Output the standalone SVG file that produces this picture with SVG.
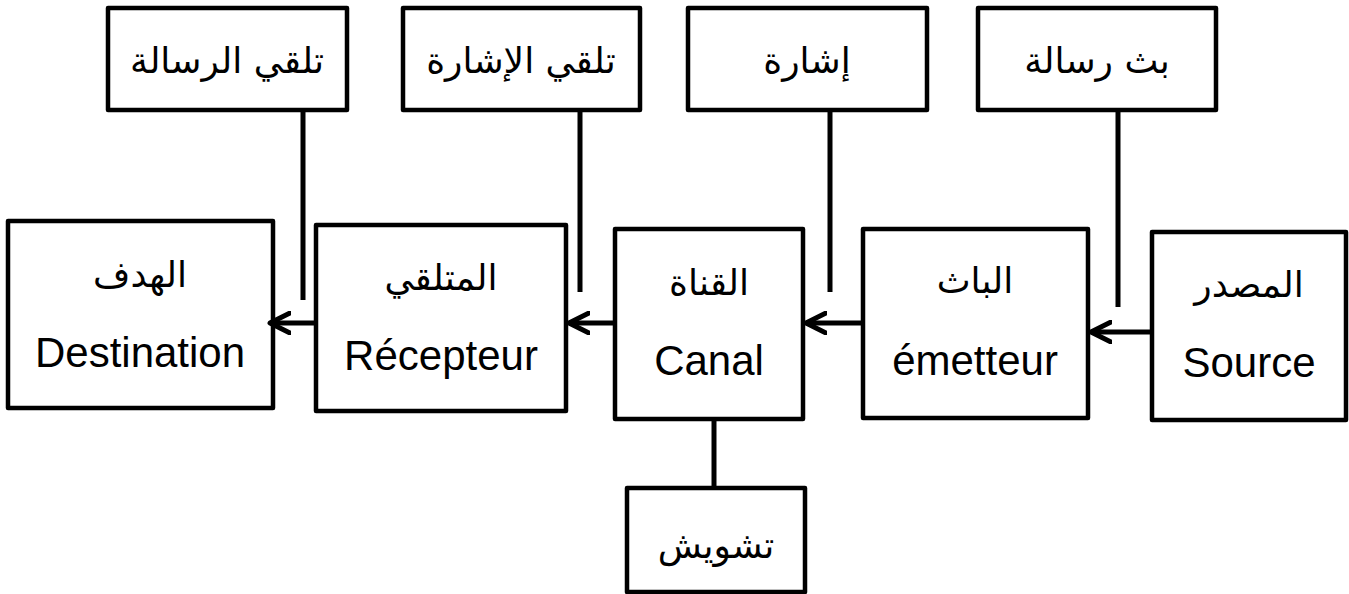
<svg xmlns="http://www.w3.org/2000/svg" width="1349" height="594" viewBox="0 0 1349 594">
<style>
.box{fill:#fff;stroke:#000;stroke-width:4.5;stroke-linejoin:round}
.ln{fill:none;stroke:#000;stroke-width:5}
.t{font-family:"Liberation Sans","DejaVu Sans",Arial,sans-serif;font-size:42px;fill:#000;text-anchor:middle}
.ar{font-family:"DejaVu Sans","Noto Sans",sans-serif;font-size:36px;fill:#000;text-anchor:middle}
</style>
<defs>
<marker id="arr" viewBox="0 0 24 24" refX="21" refY="12" markerWidth="24" markerHeight="24" markerUnits="userSpaceOnUse" orient="auto">
<path d="M1,2 L21,12 L1,22" fill="none" stroke="#000" stroke-width="5" stroke-linecap="round" stroke-linejoin="round"/>
</marker>
</defs>
<rect width="1349" height="594" fill="#fff"/>
<g id="n-receive-msg"><rect class="box" x="108" y="8" width="239" height="102"/><text class="ar" x="227" y="73">تلقي الرسالة</text></g>
<g id="n-receive-sig"><rect class="box" x="403" y="8" width="237" height="102"/><text class="ar" x="521" y="73">تلقي الإشارة</text></g>
<g id="n-signal"><rect class="box" x="688" y="8" width="239" height="102"/><text class="ar" x="807" y="73">إشارة</text></g>
<g id="n-send-msg"><rect class="box" x="978" y="8" width="238" height="102"/><text class="ar" x="1097" y="73">بث رسالة</text></g>
<g id="n-destination"><rect class="box" x="8" y="221" width="265" height="187"/><text class="ar" x="140" y="287">الهدف</text><text class="t" x="140" y="367">Destination</text></g>
<g id="n-recepteur"><rect class="box" x="316" y="225" width="250" height="186"/><text class="ar" x="441" y="290">المتلقي</text><text class="t" x="441" y="370">Récepteur</text></g>
<g id="n-canal"><rect class="box" x="615" y="229" width="188" height="190"/><text class="ar" x="709" y="295">القناة</text><text class="t" x="709" y="375">Canal</text></g>
<g id="n-emetteur"><rect class="box" x="863" y="229" width="225" height="189"/><text class="ar" x="975" y="293">الباث</text><text class="t" x="975" y="375">émetteur</text></g>
<g id="n-source"><rect class="box" x="1152" y="232" width="194" height="188"/><text class="ar" x="1249" y="297">المصدر</text><text class="t" x="1249" y="377">Source</text></g>
<g id="n-noise"><rect class="box" x="627" y="488" width="178" height="104"/><text class="ar" x="716" y="558">تشويش</text></g>
<g id="connectors">
<line class="ln" x1="316" y1="323" x2="270" y2="323" marker-end="url(#arr)"/>
<line class="ln" x1="615" y1="323" x2="569" y2="323" marker-end="url(#arr)"/>
<line class="ln" x1="863" y1="323" x2="806" y2="323" marker-end="url(#arr)"/>
<line class="ln" x1="1152" y1="332" x2="1091" y2="332" marker-end="url(#arr)"/>
<line class="ln" x1="303" y1="110" x2="303" y2="300"/>
<line class="ln" x1="580" y1="110" x2="580" y2="292"/>
<line class="ln" x1="830" y1="110" x2="830" y2="292"/>
<line class="ln" x1="1118" y1="110" x2="1118" y2="307"/>
<line class="ln" x1="714" y1="419" x2="714" y2="488"/>
</g>
</svg>
